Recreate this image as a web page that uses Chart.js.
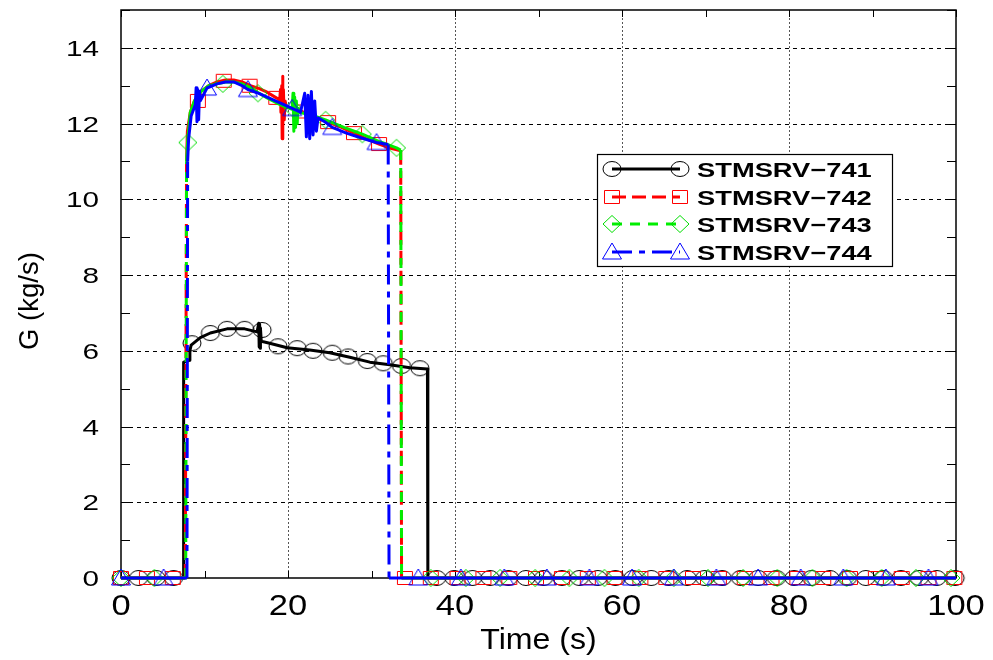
<!DOCTYPE html>
<html>
<head>
<meta charset="utf-8">
<script src="https://cdn.jsdelivr.net/npm/chart.js@4.4.1/dist/chart.umd.min.js"></script>
<style>
  html, body { margin: 0; padding: 0; background: #fff; }
  #wrap { width: 993px; height: 660px; }
</style>
</head>
<body>
<div id="wrap"><canvas id="chart" width="993" height="660"></canvas></div>
<script>
// axis ticks
const xTicks = [0, 20, 40, 60, 80, 100];
const xMinorTicks = [10, 30, 50, 70, 90];
const yTicks = [0, 2, 4, 6, 8, 10, 12, 14];
const yMinorTicks = [1, 3, 5, 7, 9, 11, 13, 15];

const seriesNames = ['STMSRV\u2212741', 'STMSRV\u2212742', 'STMSRV\u2212743', 'STMSRV\u2212744'];

// STMSRV-741 (line)
const time741 = [0, 7.45, 7.5, 8.2, 8.25, 8.4, 9.5, 10.7, 12.7, 14.8, 16.3, 16.5, 16.55, 16.6, 16.65, 16.7, 16.8, 17.8, 19.9, 22.6, 25.0, 27.4, 29.8, 32.2, 34.6, 36.7, 36.75, 100];
const flow741 = [0, 0, 5.7, 5.75, 6.0, 6.15, 6.35, 6.47, 6.58, 6.58, 6.5, 6.73, 6.1, 6.7, 6.07, 6.6, 6.25, 6.2, 6.08, 6.02, 5.95, 5.83, 5.7, 5.63, 5.55, 5.52, 0, 0];
// STMSRV-741 (markers)
const markTime741 = [0, 2.1, 4.2, 6.3, 8.5, 10.7, 12.7, 14.8, 16.9, 18.8, 21.1, 23.0, 25.3, 27.2, 29.5, 31.4, 33.6, 35.8,
  37.8, 39.9, 42.1, 44.2, 46.4, 48.5, 50.6, 52.8, 54.9, 57.1, 59.2, 61.3, 63.5, 65.6, 67.8, 69.9, 72.0, 74.2, 76.3, 78.5,
  80.6, 82.7, 84.9, 87.0, 89.2, 91.3, 93.4, 95.6, 97.7, 99.9];
const markFlow741 = [0, 0, 0, 0, 6.2, 6.47, 6.58, 6.58, 6.55, 6.12, 6.07, 6.0, 5.95, 5.85, 5.73, 5.67, 5.6, 5.54,
  0, 0, 0, 0, 0, 0, 0, 0, 0, 0, 0, 0, 0, 0, 0, 0, 0, 0, 0, 0,
  0, 0, 0, 0, 0, 0, 0, 0, 0, 0];

// STMSRV-742
const time742 = [0, 7.7, 7.85, 7.95, 8.3, 8.8, 9.6, 10.5, 11.5, 12.5, 13.5, 14.5, 15.5, 16.5, 17.5, 18.6, 19.0, 19.1, 19.15, 19.25,
  19.3, 19.35, 19.4, 19.45, 19.55, 19.65, 19.8, 20.5, 21.7, 23, 24.8, 26.4, 27.9, 29.4, 30.9, 32.3, 33.5, 33.6, 100];
const flow742 = [0, 0, 11.0, 11.8, 12.3, 12.6, 12.85, 13.0, 13.1, 13.15, 13.15, 13.1, 13.0, 12.93, 12.83, 12.68, 12.62, 12.9, 12.3, 13.0,
  11.6, 13.25, 11.9, 12.9, 12.1, 12.6, 12.45, 12.4, 12.32, 12.18, 12.04, 11.9, 11.75, 11.6, 11.46, 11.35, 11.28, 0, 0];
const markTime742 = [0, 3.1, 6.2, 9.2, 12.3, 15.4, 18.6, 21.7, 24.8, 27.9, 30.9,
  34.0, 37.1, 40.3, 43.4, 46.5, 49.7, 52.8, 55.9, 59.1, 62.2, 65.3, 68.5, 71.6, 74.7, 77.9, 81.0, 84.1, 87.3, 90.4, 93.5, 96.7, 99.8];
const markFlow742 = [0, 0, 0, 12.6, 13.13, 13.0, 12.68, 12.32, 12.04, 11.75, 11.46,
  0, 0, 0, 0, 0, 0, 0, 0, 0, 0, 0, 0, 0, 0, 0, 0, 0, 0, 0, 0, 0, 0];

// STMSRV-743
const time743 = [0, 7.75, 7.85, 8.0, 8.3, 8.8, 9.6, 10.5, 11.5, 12.5, 13.5, 14.5, 15.5, 16.4, 17.5, 18.6, 19.6, 20.5, 20.6,
  20.7, 20.8, 20.9, 21.0, 21.1, 21.2, 21.3, 22.3, 23.4, 24.5, 26.7, 28.9, 31.0, 33.0, 33.5, 33.6, 100];
const flow743 = [0, 0, 11.0, 11.6, 12.3, 12.6, 12.85, 13.0, 13.05, 13.1, 13.1, 13.05, 12.95, 12.82, 12.68, 12.55, 12.45, 12.38, 12.8,
  11.8, 12.7, 11.9, 12.6, 12.0, 12.4, 12.3, 12.25, 12.18, 12.1, 11.9, 11.72, 11.52, 11.36, 11.3, 0, 0];
const markTime743 = [0, 4.0, 8.0, 12.2, 16.4, 20.6, 24.5, 28.9, 33.0,
  37.1, 41.3, 45.4, 49.6, 53.7, 57.9, 62.0, 66.2, 70.3, 74.5, 78.6, 82.8, 86.9, 91.1, 95.2, 99.4];
const markFlow743 = [0, 0, 11.5, 13.05, 12.8, 12.4, 12.1, 11.72, 11.36,
  0, 0, 0, 0, 0, 0, 0, 0, 0, 0, 0, 0, 0, 0, 0, 0];

// STMSRV-744
const time744 = [0, 7.9, 7.98, 8.1, 8.4, 8.9, 9.0, 9.1, 9.2, 9.3, 9.4, 9.5, 10.3, 11.5, 12.5, 13.5, 14.5, 15.2, 16.5,
  17.5, 18.5, 19.5, 20.5, 21.5, 22.0, 22.2, 22.4, 22.6, 22.8, 23.0, 23.2, 23.4, 23.6, 24.4, 25.3, 27.0, 28.8, 30.6, 32.0, 32.1, 100];
const flow744 = [0, 0, 11.0, 11.6, 12.2, 12.5, 12.95, 12.05, 12.9, 12.1, 12.85, 12.6, 12.94, 13.05, 13.1, 13.1, 13.0, 12.9, 12.8,
  12.7, 12.6, 12.5, 12.4, 12.3, 12.8, 11.65, 12.75, 11.6, 12.85, 11.7, 12.6, 11.8, 12.15, 12.05, 11.9, 11.75, 11.62, 11.5, 11.45, 0, 0];
const markTime744 = [0, 5.1, 10.3, 15.2, 20.5, 25.3, 30.6,
  35.6, 40.7, 45.9, 51.0, 56.1, 61.2, 66.2, 71.3, 76.3, 81.4, 86.5, 91.6, 96.7];
const markFlow744 = [0, 0, 12.94, 12.9, 12.4, 11.9, 11.5,
  0, 0, 0, 0, 0, 0, 0, 0, 0, 0, 0, 0, 0];

const toPoints = (t, g) => t.map((v, i) => ({ x: v, y: g[i] }));

// marqueurs dessinés à la main (un peu plus larges que hauts, comme l'original)
function makeMarker(kind, color) {
  const c = document.createElement('canvas');
  c.width = 22; c.height = 20;
  const g = c.getContext('2d');
  g.strokeStyle = color;
  g.lineWidth = 1;
  g.beginPath();
  const cx = 11, cy = 10;
  if (kind === 'circle') g.ellipse(cx, cy, 9, 7.5, 0, 0, Math.PI * 2);
  else if (kind === 'square') g.rect(cx - 7.5, cy - 6.5, 15, 13);
  else if (kind === 'diamond') { g.moveTo(cx, cy - 8.5); g.lineTo(cx + 9, cy); g.lineTo(cx, cy + 8.5); g.lineTo(cx - 9, cy); g.closePath(); }
  else { g.moveTo(cx, cy - 9); g.lineTo(cx + 9.5, cy + 7); g.lineTo(cx - 9.5, cy + 7); g.closePath(); }
  g.stroke();
  return c;
}

const styles = [
  { color: '#000000', dash: [], marker: makeMarker('circle', '#000000') },
  { color: '#ff0000', dash: [14, 6], marker: makeMarker('square', '#ff0000') },
  { color: '#00ee00', dash: [10, 8], marker: makeMarker('diamond', '#00dd00') },
  { color: '#0000ff', dash: [20, 7, 6, 7], marker: makeMarker('triangle', '#0000ff') }
];

const lines = [[time741, flow741], [time742, flow742], [time743, flow743], [time744, flow744]];
const marks = [[markTime741, markFlow741], [markTime742, markFlow742], [markTime743, markFlow743], [markTime744, markFlow744]];

const datasets = [];
lines.forEach((s, i) => {
  const flow = s[1];
  const dash = styles[i].dash;
  datasets.push({
    label: seriesNames[i],
    data: toPoints(s[0], flow),
    borderColor: styles[i].color,
    borderWidth: 3,
    borderJoinStyle: 'round',
    pointRadius: 0,
    tension: 0,
    fill: false,
    clip: 3,
    // tirets seulement sur les montées / chutes (comme dans l'original, les données denses paraissent pleines)
    segment: {
      borderDash: ctx => ((flow[ctx.p0DataIndex] === 0) !== (flow[ctx.p1DataIndex] === 0)) ? dash : []
    },
    order: 8 - i * 2
  });
  datasets.push({
    label: seriesNames[i] + ' markers',
    data: toPoints(marks[i][0], marks[i][1]),
    showLine: false,
    pointStyle: styles[i].marker,
    pointRadius: 9,
    pointBorderColor: styles[i].color,
    pointBackgroundColor: 'rgba(0,0,0,0)',
    clip: false,
    order: 7 - i * 2
  });
});

function drawText(ctx, text, x, y, font, sx, align, angle) {
  ctx.save();
  ctx.translate(x, y);
  if (angle) ctx.rotate(angle);
  ctx.scale(sx, 1);
  ctx.font = font;
  ctx.textAlign = align;
  ctx.textBaseline = 'alphabetic';
  ctx.fillStyle = '#000';
  ctx.fillText(text, 0, 0);
  ctx.restore();
}

// Grille, cadre, graduations, textes et légende
const framePlugin = {
  id: 'frame',
  beforeDatasetsDraw(chart) {
    const { ctx, chartArea: a, scales: { x, y } } = chart;
    ctx.save();
    ctx.lineWidth = 1;
    ctx.strokeStyle = '#000';
    ctx.setLineDash([4, 4]);
    yTicks.forEach(v => {
      if (v === 0) return;
      const py = Math.round(y.getPixelForValue(v)) + 0.5;
      ctx.beginPath(); ctx.moveTo(a.left, py); ctx.lineTo(a.right, py); ctx.stroke();
    });
    ctx.strokeStyle = '#555';
    ctx.setLineDash([2, 2]);
    xTicks.forEach(v => {
      if (v === 0 || v === 100) return;
      const px = Math.round(x.getPixelForValue(v)) + 0.5;
      ctx.beginPath(); ctx.moveTo(px, a.top); ctx.lineTo(px, a.bottom); ctx.stroke();
    });

    ctx.setLineDash([]);
    ctx.strokeStyle = '#000';
    ctx.lineWidth = 1;
    // graduations
    yTicks.concat(yMinorTicks).forEach(v => {
      const py = Math.round(y.getPixelForValue(v)) + 0.5;
      ctx.beginPath();
      ctx.moveTo(a.left, py); ctx.lineTo(a.left + 9, py);
      ctx.moveTo(a.right, py); ctx.lineTo(a.right - 9, py);
      ctx.stroke();
    });
    xTicks.concat(xMinorTicks).forEach(v => {
      const px = Math.round(x.getPixelForValue(v)) + 0.5;
      ctx.beginPath();
      ctx.moveTo(px, a.bottom); ctx.lineTo(px, a.bottom - 7);
      ctx.moveTo(px, a.top); ctx.lineTo(px, a.top + 7);
      ctx.stroke();
    });
    // cadre
    ctx.lineWidth = 1.5;
    ctx.strokeRect(a.left, a.top, a.right - a.left, a.bottom - a.top);

    // labels des axes
    yTicks.forEach(v => {
      drawText(ctx, String(v), 99, y.getPixelForValue(v) + 8, '22px "Liberation Sans"', 1.35, 'right');
    });
    xTicks.forEach(v => {
      drawText(ctx, String(v), x.getPixelForValue(v), 615, '30px "Liberation Sans"', 1.15, 'center');
    });
    drawText(ctx, 'Time (s)', (a.left + a.right) / 2, 649, '30px "Liberation Sans"', 1.07, 'center');
    drawText(ctx, 'G (kg/s)', 38, (a.top + a.bottom) / 2 + 7, '27px "Liberation Sans"', 1.02, 'center', -Math.PI / 2);
    ctx.restore();
  },
  afterDatasetsDraw(chart) {
    const { ctx } = chart;
    ctx.save();
    // légende
    const lx = 597, ly = 154, lw = 295, lh = 112;
    ctx.fillStyle = '#fff';
    ctx.fillRect(lx, ly, lw, lh);
    ctx.lineWidth = 1.2;
    ctx.strokeStyle = '#000';
    ctx.strokeRect(lx + 0.5, ly + 0.5, lw, lh);
    const rows = [169, 197, 224, 252];
    seriesNames.forEach((name, i) => {
      const ry = rows[i];
      const st = styles[i];
      ctx.save();
      ctx.strokeStyle = st.color;
      ctx.lineWidth = 3;
      ctx.setLineDash(st.dash);
      ctx.beginPath(); ctx.moveTo(612, ry); ctx.lineTo(680, ry); ctx.stroke();
      ctx.restore();
      const m = st.marker;
      ctx.drawImage(m, 612 - m.width / 2, ry - m.height / 2);
      ctx.drawImage(m, 680 - m.width / 2, ry - m.height / 2);
      drawText(ctx, name, 697, ry + 7.5, 'bold 21px "Liberation Sans"', 1.3, 'left');
    });
    ctx.restore();
  }
};

new Chart(document.getElementById('chart'), {
  type: 'line',
  data: { datasets: datasets },
  options: {
    responsive: false,
    animation: false,
    layout: { padding: { left: 121, right: 37, top: 10, bottom: 82 } },
    scales: {
      x: { type: 'linear', min: 0, max: 100, display: false },
      y: { type: 'linear', min: 0, max: 15, display: false }
    },
    plugins: {
      legend: { display: false },
      tooltip: { enabled: false }
    }
  },
  plugins: [framePlugin]
});
</script>
</body>
</html>
